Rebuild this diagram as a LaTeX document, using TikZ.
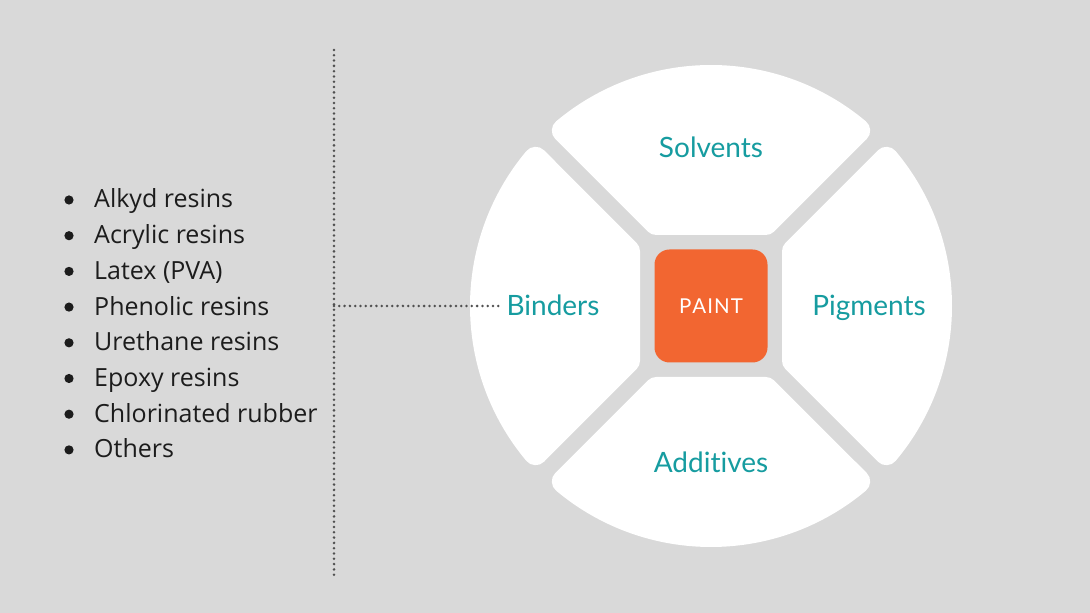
\documentclass[tikz,border=0pt]{standalone}
\usepackage{fontspec}
\setmainfont{Open Sans}
\newfontfamily\partfont[Ligatures=NoCommon]{Lato}
\usetikzlibrary{positioning}
\definecolor{bggray}{RGB}{217,217,217}
\definecolor{paintorange}{RGB}{242,102,49}
\definecolor{partteal}{RGB}{22,156,160}
\definecolor{listtext}{RGB}{28,28,28}
\definecolor{dotgray}{RGB}{80,80,80}

\begin{document}
\begin{tikzpicture}[x=1pt, y=1pt,
  segment/.style={fill=white, draw=white, line width=24pt, line join=round},
  part/.style={font=\partfont\fontsize{28}{28}\selectfont, text=partteal, anchor=base},
  paintbox/.style={fill=paintorange, rounded corners=15pt, minimum size=113pt, inner sep=0pt,
    text=white, font=\partfont\fontsize{20.5}{20.5}\selectfont},
  item/.style={font=\fontsize{25}{25}\selectfont, text=listtext, anchor=base west, inner sep=0pt},
  dotline/.style={draw=dotgray, line width=2.8pt, dash pattern=on 0pt off 5.3pt, line cap=round}]

  \useasboundingbox[fill=bggray] (0,0) rectangle (1090,613);

  % white segments round the centre
  \foreach \ang in {0,90,180,270}{
    \begin{scope}[shift={(711,307)}, rotate=\ang]
      \path[segment] (-54.7,83) -- (54.7,83) -- (50:229)
        arc[start angle=50, end angle=130, radius=229] -- cycle;
    \end{scope}
  }

  \node[paintbox] (paint) at (711,307) {P\kern1ptA\kern1ptI\kern1ptN\kern1ptT};

  \node[part] (solvents) at (711,455) {Solvents};
  \node[part] (binders) at (553,297) {Binders};
  \node[part] (pigments) at (869,297) {Pigments};
  \node[part] (additives) at (711,140) {Additives};

  % list of binders
  \foreach \name [count=\i] in {Alkyd resins, Acrylic resins, Latex (PVA), Phenolic resins,
      Urethane resins, Epoxy resins, Chlorinated rubber, Others}{
    \node[item] (item\i) at (94,{405-35.7*(\i-1)}) {\name};
    \fill[listtext] (69,{413-35.7*(\i-1)}) circle (4.6);
  }

  \coordinate (vtop) at (334,563);
  \coordinate (vbot) at (334,38);
  \coordinate (joint) at (334,307);
  \draw[dotline] (vtop) -- (vbot);
  \draw[dotline] (joint) -- (joint -| binders.west);
\end{tikzpicture}
\end{document}
